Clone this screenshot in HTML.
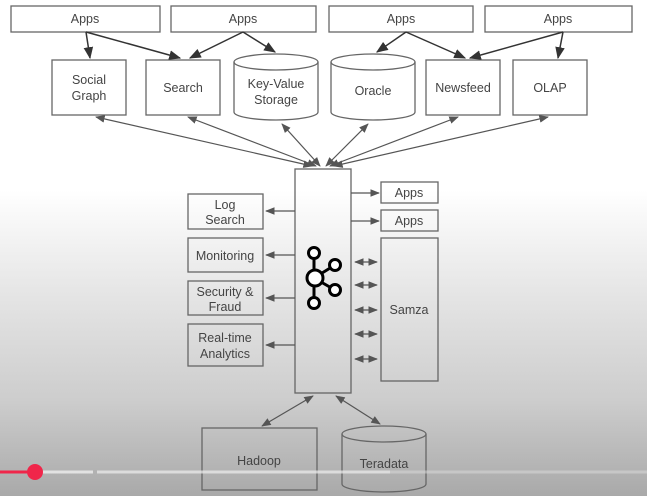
<!DOCTYPE html>
<html><head><style>
html,body{margin:0;padding:0}
body{width:647px;height:496px;overflow:hidden;background:linear-gradient(to bottom,#fff 0px,#fff 190px,#e6e6e6 290px,#cdcdcd 400px,#a9a9a9 496px);}
svg{display:block}
text{font-family:"Liberation Sans",sans-serif;font-size:12.5px;fill:#444;text-anchor:middle}
</style></head><body>
<svg width="647" height="496" viewBox="0 0 647 496">
<defs>
<marker id="a" viewBox="0 0 10 10" refX="9" refY="5" markerWidth="8" markerHeight="8" orient="auto-start-reverse"><path d="M0,1 L10,5 L0,9 z" fill="#333"/></marker>
<marker id="g" viewBox="0 0 10 10" refX="9" refY="5" markerWidth="8" markerHeight="8" orient="auto-start-reverse"><path d="M0,1 L10,5 L0,9 z" fill="#555"/></marker>
</defs>
<g fill="none" stroke="#666" stroke-width="1.3">
<rect x="11" y="6" width="149" height="26"/><rect x="171" y="6" width="145" height="26"/>
<rect x="329" y="6" width="144" height="26"/><rect x="485" y="6" width="147" height="26"/>
<rect x="52" y="60" width="74" height="55"/><rect x="146" y="60" width="74" height="55"/>
<path d="M234,62 V112 A42,8 0 0 0 318,112 V62"/><ellipse cx="276" cy="62" rx="42" ry="8"/>
<path d="M331,62 V112 A42,8 0 0 0 415,112 V62"/><ellipse cx="373" cy="62" rx="42" ry="8"/>
<rect x="426" y="60" width="74" height="55"/><rect x="513" y="60" width="74" height="55"/>
<rect x="295" y="169" width="56" height="224"/>
<rect x="188" y="194" width="75" height="35"/><rect x="188" y="238" width="75" height="34"/>
<rect x="188" y="281" width="75" height="34"/><rect x="188" y="324" width="75" height="42"/>
<rect x="381" y="182" width="57" height="21"/><rect x="381" y="210" width="57" height="21"/>
<rect x="381" y="238" width="57" height="143"/>
<rect x="202" y="428" width="115" height="62"/>
<path d="M342,434 V484 A42,8 0 0 0 426,484 V434"/><ellipse cx="384" cy="434" rx="42" ry="8"/>
</g>
<g stroke="#333" stroke-width="1.5" fill="none" marker-end="url(#a)">
<line x1="86" y1="32" x2="90" y2="58"/><line x1="86" y1="32" x2="180" y2="58"/>
<line x1="243" y1="32" x2="190" y2="58"/><line x1="243" y1="32" x2="275" y2="52"/>
<line x1="406" y1="32" x2="377" y2="52"/><line x1="406" y1="32" x2="465" y2="58"/>
<line x1="563" y1="32" x2="470" y2="58"/><line x1="563" y1="32" x2="558" y2="58"/>
</g>
<g stroke="#555" stroke-width="1.2" fill="none" marker-start="url(#g)" marker-end="url(#g)">
<line x1="96" y1="117" x2="312" y2="166"/><line x1="188" y1="117" x2="316" y2="166"/>
<line x1="282" y1="124" x2="320" y2="166"/><line x1="368" y1="124" x2="326" y2="166"/>
<line x1="458" y1="117" x2="330" y2="166"/><line x1="548" y1="117" x2="334" y2="166"/>
<line x1="313" y1="396" x2="262" y2="426"/><line x1="336" y1="396" x2="380" y2="424"/>
<line x1="355" y1="262" x2="377" y2="262"/><line x1="355" y1="285" x2="377" y2="285"/>
<line x1="355" y1="310" x2="377" y2="310"/><line x1="355" y1="334" x2="377" y2="334"/>
<line x1="355" y1="359" x2="377" y2="359"/>
</g>
<g stroke="#555" stroke-width="1.2" fill="none" marker-end="url(#g)">
<line x1="295" y1="211" x2="266" y2="211"/><line x1="295" y1="255" x2="266" y2="255"/>
<line x1="295" y1="298" x2="266" y2="298"/><line x1="295" y1="345" x2="266" y2="345"/>
<line x1="351" y1="193" x2="379" y2="193"/><line x1="351" y1="221" x2="379" y2="221"/>
</g>
<g stroke="#000" stroke-width="3" fill="none">
<line x1="314" y1="254" x2="314" y2="303"/><line x1="314" y1="278" x2="335" y2="265"/><line x1="314" y1="278" x2="335" y2="290"/>
<circle cx="314" cy="253" r="5.5" fill="#fff"/><circle cx="315" cy="278" r="8" fill="#fff"/>
<circle cx="314" cy="303" r="5.5" fill="#fff"/><circle cx="335" cy="265" r="5.5" fill="#fff"/>
<circle cx="335" cy="290" r="5.5" fill="#fff"/>
</g>
<text x="85" y="23">Apps</text><text x="243" y="23">Apps</text><text x="401" y="23">Apps</text><text x="558" y="23">Apps</text>
<text x="89" y="84">Social</text><text x="89" y="100">Graph</text>
<text x="183" y="92">Search</text>
<text x="276" y="88">Key-Value</text><text x="276" y="104">Storage</text>
<text x="373" y="95">Oracle</text><text x="463" y="92">Newsfeed</text><text x="550" y="92">OLAP</text>
<text x="225" y="209">Log</text><text x="225" y="224">Search</text>
<text x="225" y="260">Monitoring</text>
<text x="225" y="296">Security &amp;</text><text x="225" y="311">Fraud</text>
<text x="225" y="342">Real-time</text><text x="225" y="358">Analytics</text>
<text x="409" y="197">Apps</text><text x="409" y="225">Apps</text><text x="409" y="314">Samza</text>
<text x="259" y="465">Hadoop</text><text x="384" y="468">Teradata</text>
<line x1="0" y1="472" x2="35" y2="472" stroke="#f0264a" stroke-width="3"/>
<line x1="35" y1="472" x2="93" y2="472" stroke="#eee" stroke-width="3" opacity=".8"/>
<line x1="97" y1="472" x2="390" y2="472" stroke="#eee" stroke-width="3" opacity=".7"/>
<line x1="390" y1="472" x2="647" y2="472" stroke="#ddd" stroke-width="3" opacity=".5"/>
<circle cx="35" cy="472" r="8" fill="#f0264a"/>
</svg>
</body></html>
